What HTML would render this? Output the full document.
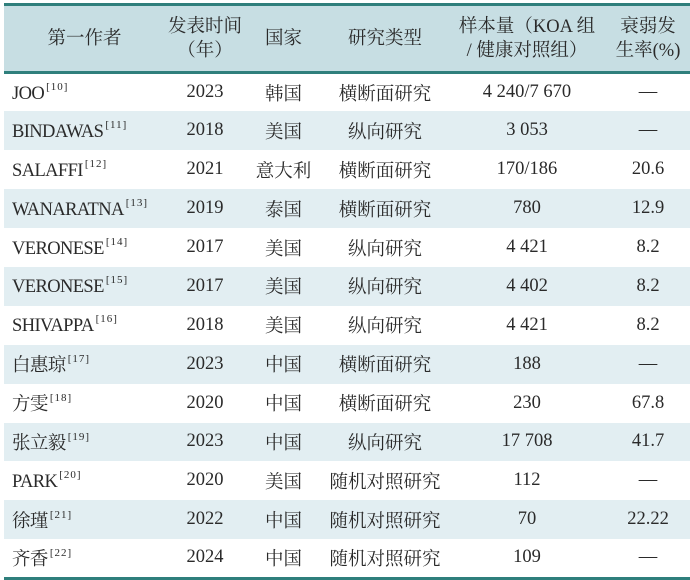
<!DOCTYPE html>
<html><head><meta charset="utf-8"><style>
html,body{margin:0;padding:0;background:#fff;width:690px;height:579px;overflow:hidden}
table{position:absolute;left:4px;top:3px;width:686px;border-collapse:collapse;table-layout:fixed;
font-family:"Liberation Serif","Noto Serif CJK SC",serif;font-size:18.5px;color:#2a2a2a}
thead tr{background:#c7dee3;height:68px}
thead th{font-weight:normal;line-height:24px;border-top:3px solid #2f7f7c;border-bottom:3px solid #2f7f7c;padding:0}
tbody tr{height:38.9px}
tbody tr:nth-child(even){background:#e2eef2}
td{text-align:center;padding:0;white-space:nowrap}
td:first-child{text-align:left;padding-left:8px;letter-spacing:-0.6px}
sup{font-size:11px;vertical-align:9px;margin-left:2px;letter-spacing:1px}
tbody tr:last-child td{border-bottom:3px solid #2f7f7c}
</style></head><body>
<table>
<colgroup><col style="width:161px"><col style="width:80px"><col style="width:77px"><col style="width:126px"><col style="width:158px"><col style="width:84px"></colgroup>
<thead><tr><th>第一作者</th><th>发表时间<br>（年）</th><th>国家</th><th>研究类型</th><th>样本量（KOA 组<br>/ 健康对照组）</th><th>衰弱发<br>生率(%)</th></tr></thead>
<tbody>
<tr><td>JOO<sup>[10]</sup></td><td>2023</td><td>韩国</td><td>横断面研究</td><td>4 240/7 670</td><td>—</td></tr>
<tr><td>BINDAWAS<sup>[11]</sup></td><td>2018</td><td>美国</td><td>纵向研究</td><td>3 053</td><td>—</td></tr>
<tr><td>SALAFFI<sup>[12]</sup></td><td>2021</td><td>意大利</td><td>横断面研究</td><td>170/186</td><td>20.6</td></tr>
<tr><td>WANARATNA<sup>[13]</sup></td><td>2019</td><td>泰国</td><td>横断面研究</td><td>780</td><td>12.9</td></tr>
<tr><td>VERONESE<sup>[14]</sup></td><td>2017</td><td>美国</td><td>纵向研究</td><td>4 421</td><td>8.2</td></tr>
<tr><td>VERONESE<sup>[15]</sup></td><td>2017</td><td>美国</td><td>纵向研究</td><td>4 402</td><td>8.2</td></tr>
<tr><td>SHIVAPPA<sup>[16]</sup></td><td>2018</td><td>美国</td><td>纵向研究</td><td>4 421</td><td>8.2</td></tr>
<tr><td>白惠琼<sup>[17]</sup></td><td>2023</td><td>中国</td><td>横断面研究</td><td>188</td><td>—</td></tr>
<tr><td>方雯<sup>[18]</sup></td><td>2020</td><td>中国</td><td>横断面研究</td><td>230</td><td>67.8</td></tr>
<tr><td>张立毅<sup>[19]</sup></td><td>2023</td><td>中国</td><td>纵向研究</td><td>17 708</td><td>41.7</td></tr>
<tr><td>PARK<sup>[20]</sup></td><td>2020</td><td>美国</td><td>随机对照研究</td><td>112</td><td>—</td></tr>
<tr><td>徐瑾<sup>[21]</sup></td><td>2022</td><td>中国</td><td>随机对照研究</td><td>70</td><td>22.22</td></tr>
<tr><td>齐香<sup>[22]</sup></td><td>2024</td><td>中国</td><td>随机对照研究</td><td>109</td><td>—</td></tr>
</tbody></table>
</body></html>
